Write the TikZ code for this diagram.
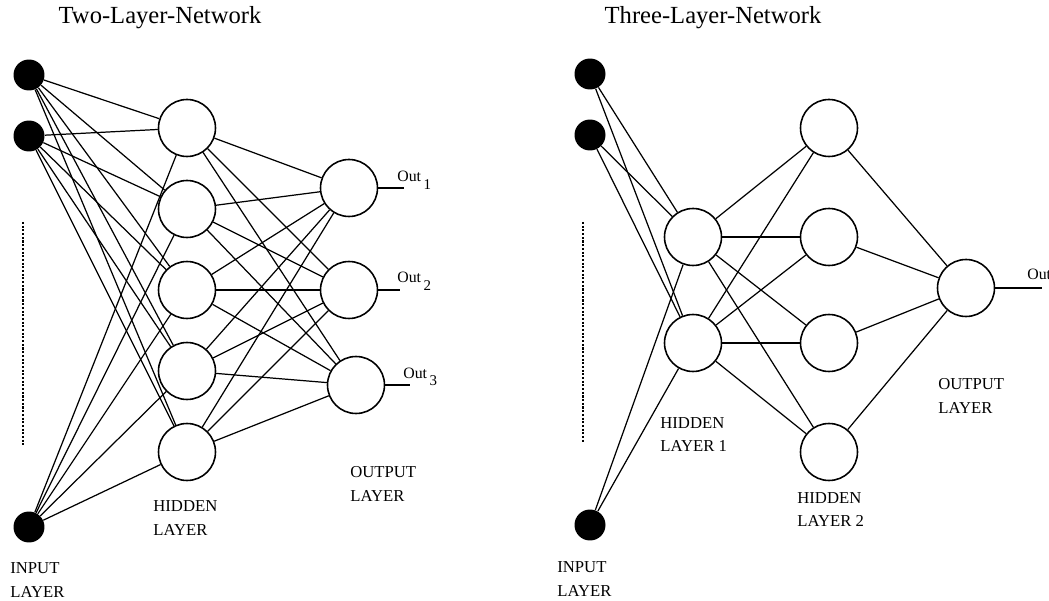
\documentclass[tikz,border=0pt]{standalone}
\usepackage{fontspec}
\setmainfont{Liberation Serif}
\usetikzlibrary{positioning}

\begin{document}
\begin{tikzpicture}[x=0.02cm, y=-0.02cm,
  inunit/.style={circle, fill=black, inner sep=0pt, minimum size=0.62cm},
  unit/.style={circle, draw, line width=0.9pt, inner sep=0pt, minimum size=1.14cm},
  link/.style={line width=0.7pt},
  etc/.style={line width=1.3pt, dash pattern=on 1.2pt off 0.9pt},
  title/.style={font=\fontsize{14}{16}\selectfont, anchor=base},
  layer/.style={font=\fontsize{9.5}{13.5}\selectfont, align=left, anchor=north west, inner sep=0pt},
  outlbl/.style={font=\fontsize{9}{10}\selectfont, anchor=base west, inner sep=0pt}]
  \useasboundingbox (0,0) rectangle (1049,601);

  % Two-layer network
  \node[title] (ttwo) at (160,24) {Two-Layer-Network};

  % input units
  \node[inunit] (li1) at (29,75) {};
  \node[inunit] (li2) at (29,136) {};
  \node[inunit] (li3) at (29,527) {};
  \draw[etc] (23,222) -- (23,445);

  % hidden units
  \foreach \i/\y in {1/128,2/209,3/290,4/371,5/452}
    \node[unit] (lh\i) at (187,\y) {};

  % output units
  \node[unit] (lo1) at (349,188) {};
  \node[unit] (lo2) at (349,290) {};
  \node[unit] (lo3) at (356,385) {};

  % full connections
  \foreach \a in {1,2,3}
    \foreach \h in {1,...,5}
      \draw[link] (li\a) -- (lh\h);
  \foreach \h in {1,...,5}
    \foreach \o in {1,2,3}
      \draw[link] (lh\h) -- (lo\o);

  % outputs
  \coordinate (le1) at (404,188);
  \coordinate (le2) at (400,290);
  \coordinate (le3) at (410,385);
  \foreach \o in {1,2,3}
    \draw[link] (lo\o) -- (le\o);
  \node[outlbl] (lout1) at (397,182) {Out\,\raisebox{-4.5pt}{\fontsize{8.5}{9}\selectfont 1}};
  \node[outlbl] (lout2) at (397,283) {Out\,\raisebox{-4.5pt}{\fontsize{8.5}{9}\selectfont 2}};
  \node[outlbl] (lout3) at (403,378) {Out\,\raisebox{-4.5pt}{\fontsize{8.5}{9}\selectfont 3}};

  % layer names
  \node[layer] (lin) at (10,562) {INPUT\\LAYER};
  \node[layer] (lhid) at (153,500) {HIDDEN\\LAYER};
  \node[layer] (lout) at (350,466) {OUTPUT\\LAYER};

  % Three-layer network
  \node[title] (tthree) at (713,24) {Three-Layer-Network};

  % input units
  \node[inunit] (ri1) at (590,74) {};
  \node[inunit] (ri2) at (590,135) {};
  \node[inunit] (ri3) at (590,525) {};
  \draw[etc] (583,222) -- (583,443);

  % first hidden layer
  \node[unit] (rh1) at (693,237) {};
  \node[unit] (rh2) at (693,343) {};

  % second hidden layer
  \foreach \i/\y in {1/128,2/237,3/343,4/452}
    \node[unit] (rg\i) at (829,\y) {};

  % output unit
  \node[unit] (ro) at (966,288) {};

  % full connections
  \foreach \a in {1,2,3}
    \foreach \h in {1,2}
      \draw[link] (ri\a) -- (rh\h);
  \foreach \h in {1,2}
    \foreach \g in {1,...,4}
      \draw[link] (rh\h) -- (rg\g);
  \foreach \g in {1,...,4}
    \draw[link] (rg\g) -- (ro);

  % output
  \coordinate (re) at (1042,288);
  \draw[link] (ro) -- (re);
  \node[outlbl] (rout) at (1027,280) {Out};

  % layer names
  \node[layer] (rin) at (557,561) {INPUT\\LAYER};
  \node[layer] (rhid1) at (660,417) {HIDDEN\\LAYER 1};
  \node[layer] (rhid2) at (797,492) {HIDDEN\\LAYER 2};
  \node[layer] (rout2) at (938,378) {OUTPUT\\LAYER};
\end{tikzpicture}
\end{document}
